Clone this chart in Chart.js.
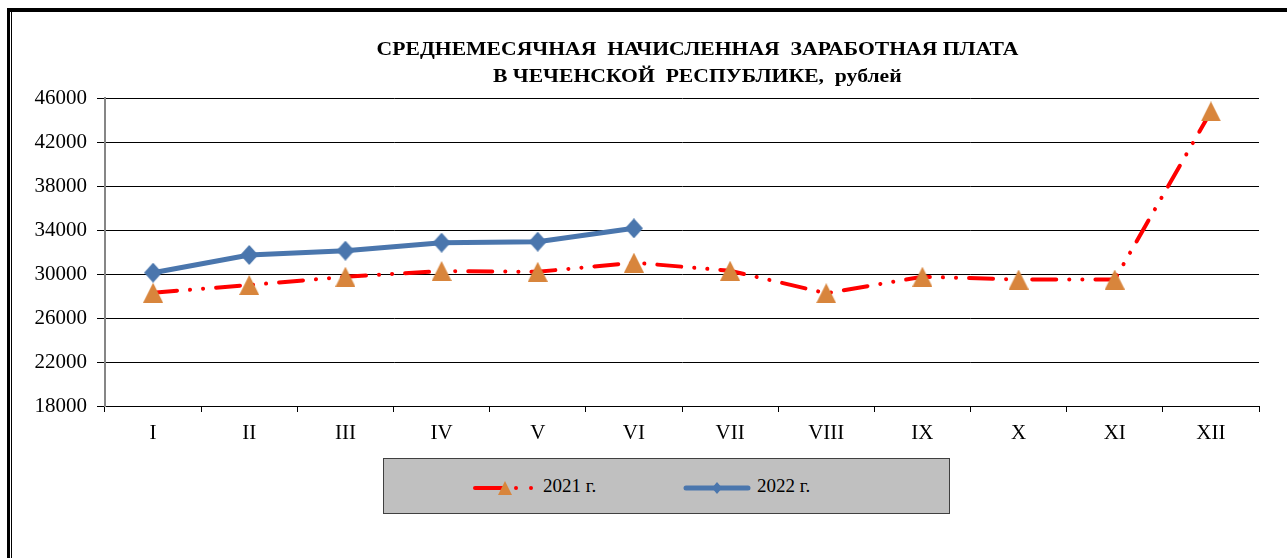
<!DOCTYPE html>
<html>
<head>
<meta charset="utf-8">
<script src="https://cdn.jsdelivr.net/npm/chart.js@4.4.0/dist/chart.umd.min.js"></script>
<style>
    html, body {margin: 0; padding: 0; background: #fff;}
    #page {position: relative; width: 1287px; height: 558px; overflow: hidden;}
    #wrap {position: absolute; left: 0; top: 0; width: 1287px; height: 558px;}
    .frame-top {position: absolute; left: 7px; top: 8px; width: 1300px; height: 4px; background: #000;}
    .frame-left {position: absolute; left: 7px; top: 8px; width: 3px; height: 560px; background: #000;}
    .frame-left2 {position: absolute; left: 11px; top: 12px; width: 1px; height: 560px; background: #000;}
    #title {position: absolute; left: 54px; top: 35px; width: 1287px; text-align: center;
        font: bold 19px "Liberation Serif", serif; line-height: 27px; color: #000;}
    #title span {display: inline-block; transform: scaleX(1.14); white-space: pre;}
    #legend {position: absolute; left: 383px; top: 458px; width: 565px; height: 54px;
        background: #c0c0c0; border: 1px solid #404040;}
    .item {position: absolute; top: 15px; height: 24px; font: 19px "Liberation Serif", serif; color: #000;
        line-height: 24px; white-space: nowrap;}
    .item svg {vertical-align: middle; margin-right: 6px;}
</style>
</head>
<body>
<div id="page">
    <div id="wrap"><canvas id="chart"></canvas></div>
    <div class="frame-top"></div>
    <div class="frame-left"></div>
    <div class="frame-left2"></div>
    <div id="title">
        <span>СРЕДНЕМЕСЯЧНАЯ  НАЧИСЛЕННАЯ  ЗАРАБОТНАЯ ПЛАТА</span><br>
        <span>В ЧЕЧЕНСКОЙ  РЕСПУБЛИКЕ,  рублей</span>
    </div>
    <div id="legend">
        <div class="item" style="left: 89px;">
            <svg width="64" height="20">
                <line x1="2" y1="10" x2="30" y2="10" stroke="#ff0000" stroke-width="4" stroke-linecap="round"/>
                <polygon points="25,17 39,17 32,3" fill="#d8853c"/>
                <circle cx="43" cy="10" r="2" fill="#ff0000"/>
                <circle cx="58" cy="10" r="2" fill="#ff0000"/>
            </svg><span id="lab2021"></span>
        </div>
        <div class="item" style="left: 299px;">
            <svg width="68" height="20">
                <line x1="3" y1="10" x2="65" y2="10" stroke="#4a76ad" stroke-width="5" stroke-linecap="round"/>
                <polygon points="34,4 39,10 34,16 29,10" fill="#4a76ad"/>
            </svg><span id="lab2022"></span>
        </div>
    </div>
</div>
<script>
const months = ['I', 'II', 'III', 'IV', 'V', 'VI', 'VII', 'VIII', 'IX', 'X', 'XI', 'XII'];
const wage2021 = [28300, 29000, 29750, 30270, 30200, 31030, 30300, 28250, 29750, 29500, 29500, 44780];
const wage2022 = [30120, 31730, 32120, 32850, 32940, 34150];
const label2021 = '2021 г.';
const label2022 = '2022 г.';
const yTicks = [18000, 22000, 26000, 30000, 34000, 38000, 42000, 46000];

document.getElementById('lab2021').textContent = label2021;
document.getElementById('lab2022').textContent = label2022;

// marker shapes like the office ones: slightly taller than wide
function makeMarker(w, h, color, shape) {
    const c = document.createElement('canvas');
    c.width = w;
    c.height = h;
    const g = c.getContext('2d');
    g.fillStyle = color;
    g.beginPath();
    if (shape === 'triangle') {
        g.moveTo(w / 2, 0);
        g.lineTo(w, h);
        g.lineTo(0, h);
    } else {
        g.moveTo(w / 2, 0);
        g.lineTo(w, h / 2);
        g.lineTo(w / 2, h);
        g.lineTo(0, h / 2);
    }
    g.closePath();
    g.fill();
    return c;
}
const triangleMarker = makeMarker(20, 20, '#d8853c', 'triangle');
const diamondMarker = makeMarker(18, 20, '#4a76ad', 'diamond');

const ctx = document.getElementById('chart');
const tickFont = {family: '"Liberation Serif", serif', size: 21};

let mainChart = new Chart(ctx, {
    type: 'line',
    data: {
        labels: months,
        datasets: [
            {
                label: label2021,
                data: wage2021,
                borderColor: '#ff0000',
                borderWidth: 4,
                borderDash: [24, 13, 0.1, 13, 0.1, 13],
                borderCapStyle: 'round',
                lineTension: 0,
                pointStyle: triangleMarker,
                pointRadius: 10,
                order: 2,
            },
            {
                label: label2022,
                data: wage2022,
                borderColor: '#4a76ad',
                borderWidth: 5,
                lineTension: 0,
                pointStyle: diamondMarker,
                pointRadius: 10,
                order: 1,
            },
        ],
    },
    options: {
        responsive: true,
        maintainAspectRatio: false,
        animation: false,
        layout: {padding: {left: 14, right: 28, top: 98, bottom: 112}},
        plugins: {
            legend: {display: false},
            tooltip: {enabled: false},
        },
        scales: {
            x: {
                offset: true,
                grid: {offset: true, drawOnChartArea: false, drawTicks: true, tickLength: 6, color: '#000'},
                border: {color: '#000', width: 1},
                ticks: {font: tickFont, color: '#000', padding: 9, maxRotation: 0},
                afterFit: (scale) => { scale.height = 40; },
            },
            y: {
                min: 18000,
                max: 46000,
                afterBuildTicks: (scale) => { scale.ticks = yTicks.map(v => ({value: v})); },
                grid: {color: '#000', tickLength: 8, lineWidth: 1},
                border: {color: '#868686', width: 2},
                ticks: {font: tickFont, color: '#000', padding: 10, callback: (v) => v},
                afterFit: (scale) => { scale.width = 91; },
            },
        },
    },
});
</script>
</body>
</html>
